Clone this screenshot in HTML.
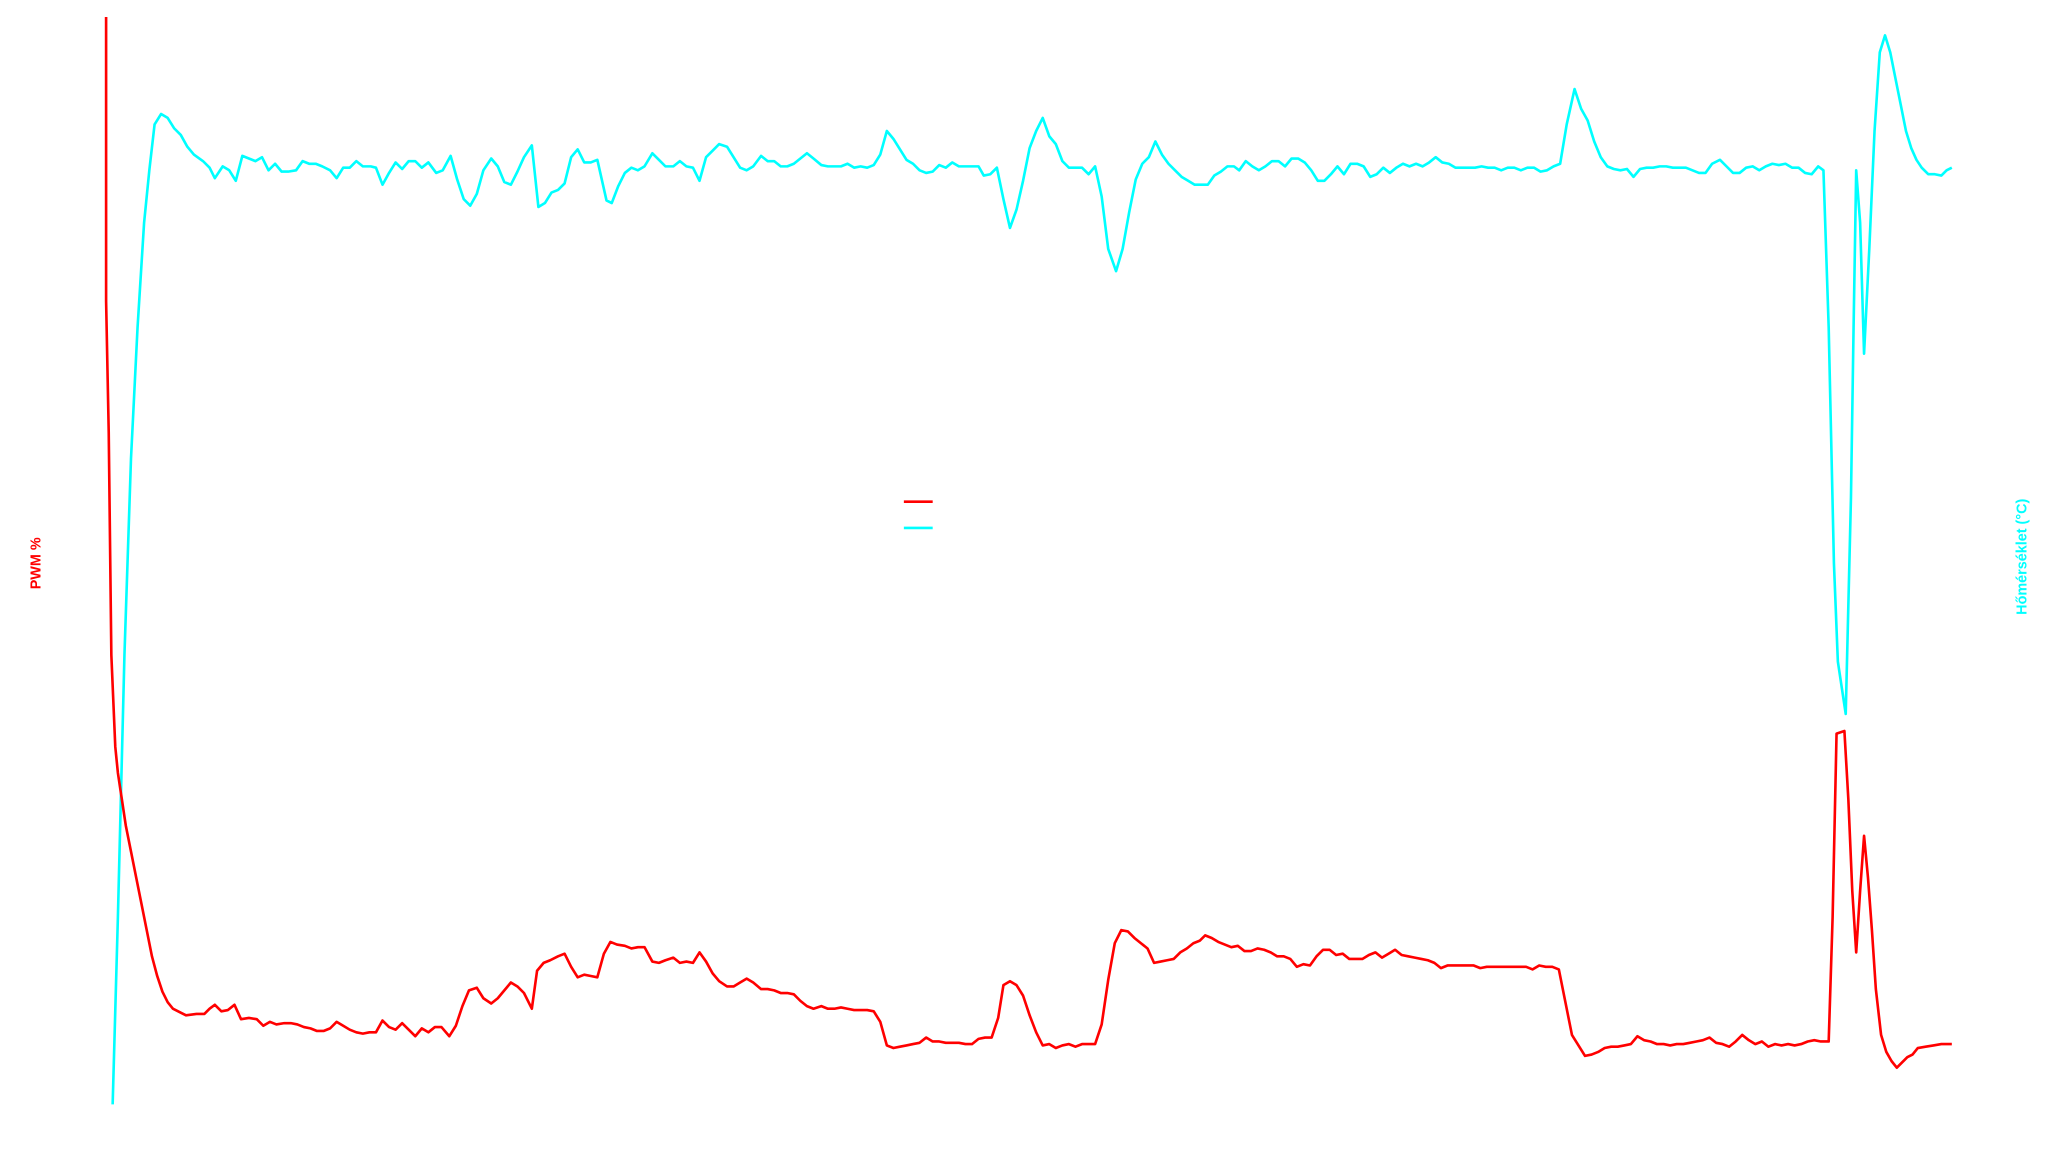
<!DOCTYPE html>
<html><head><meta charset="utf-8"><style>html,body{margin:0;padding:0;background:#fff;}svg{display:block}</style></head>
<body>
<svg width="2054" height="1162" viewBox="0 0 1568 887" preserveAspectRatio="none" xmlns="http://www.w3.org/2000/svg">
<rect width="1568" height="887" fill="#fff"/>
<text x="0" y="0" transform="translate(31,430) rotate(-90)" text-anchor="middle" font-family="Liberation Sans, sans-serif" font-size="11" font-weight="bold" fill="#ff0000">PWM %</text>
<text x="0" y="0" transform="translate(1547,425) rotate(-90)" text-anchor="middle" font-family="Liberation Sans, sans-serif" font-size="11" font-weight="bold" fill="#00ffff">Hőmérséklet (°C)</text>
<line x1="690" y1="383" x2="712" y2="383" stroke="#ff0000" stroke-width="2"/>
<line x1="690" y1="403" x2="712" y2="403" stroke="#00ffff" stroke-width="2"/>
<polyline fill="none" stroke="#00ffff" stroke-width="2" stroke-linejoin="round" points="86,843 90,700 95,500 100,350 105,250 110,170 114,130 118,95 123,87 128,90 133,98 138,103 143,112 148,118 155,123 160,128 164,136 170,127 175,130 180,138 185,119 190,121 195,123 200,120 205,130 210,125 215,131 220,131 226,130 231,123 236,125 241,125 246,127 252,130 257,136 262,128 267,128 272,123 277,127 283,127 287,128 292,141 297,132 302,124 307,129 312,123 317,123 322,128 327,124 333,132 338,130 344,119 349,137 354,152 359,157 364,148 369,130 375,121 380,127 385,139 390,141 395,131 400,120 406,111 411,158 416,155 421,147 426,145 431,140 436,120 441,114 446,124 451,124 456,122 463,153 467,155 472,142 477,132 482,128 487,130 492,127 498,117 503,122 508,127 514,127 519,123 524,127 529,128 534,138 539,120 544,115 549,110 555,112 560,120 565,128 570,130 575,127 581,119 586,123 591,123 596,127 601,127 606,125 611,121 616,117 621,121 627,126 632,127 637,127 642,127 647,125 652,128 657,127 662,128 667,126 672,118 677,100 682,106 687,114 692,122 697,125 702,130 707,132 712,131 717,126 722,128 727,124 732,127 737,127 742,127 747,127 751,134 756,133 761,128 766,152 771,174 776,160 781,138 786,113 791,100 796,90 801,104 806,110 811,123 816,128 821,128 826,128 831,133 836,127 841,150 846,190 852,207 857,190 862,162 867,137 872,125 877,120 882,108 887,118 892,125 897,130 902,135 907,138 912,141 917,141 922,141 927,134 932,131 937,127 942,127 946,130 951,123 956,127 961,130 966,127 971,123 976,123 981,127 986,121 991,121 996,124 1001,130 1006,138 1011,138 1016,133 1021,127 1026,133 1031,125 1036,125 1041,127 1046,135 1051,133 1056,128 1061,132 1066,128 1071,125 1076,127 1081,125 1086,127 1091,124 1096,120 1101,124 1106,125 1111,128 1116,128 1121,128 1126,128 1131,127 1136,128 1141,128 1146,130 1151,128 1156,128 1161,130 1166,128 1171,128 1176,131 1181,130 1186,127 1191,125 1196,95 1202,68 1207,83 1212,92 1217,108 1222,120 1227,127 1232,129 1237,130 1242,129 1247,135 1252,129 1257,128 1262,128 1267,127 1272,127 1277,128 1282,128 1287,128 1292,130 1297,132 1302,132 1307,125 1313,122 1318,127 1323,132 1328,132 1333,128 1338,127 1343,130 1348,127 1353,125 1358,126 1363,125 1368,128 1373,128 1378,132 1383,133 1388,127 1392,130 1396,250 1400,430 1403,505 1406,525 1409,545 1413,380 1415,250 1417,130 1420,170 1423,270 1427,190 1431,100 1435,40 1439,27 1443,40 1447,60 1451,80 1455,100 1459,113 1463,122 1467,128 1472,133 1477,133 1482,134 1486,130 1490,128"/>
<polyline fill="none" stroke="#ff0000" stroke-width="2" stroke-linejoin="round" points="81,13 81,230 83,330 85,500 88,570 90,590 93,610 96,630 100,650 104,670 108,690 112,710 116,730 120,745 124,757 128,765 132,770 138,773 142,775 150,774 156,774 160,770 164,767 169,772 174,771 179,767 184,778 190,777 196,778 201,783 206,780 211,782 217,781 222,781 227,782 232,784 237,785 242,787 247,787 252,785 257,780 262,783 267,786 272,788 277,789 282,788 287,788 292,779 297,784 302,786 307,781 312,786 317,791 322,785 327,788 332,784 337,784 343,791 348,783 353,768 358,756 364,754 369,762 375,766 380,762 385,756 390,750 395,753 400,758 406,770 410,741 415,735 420,733 426,730 431,728 436,738 441,746 446,744 451,745 456,746 461,728 466,719 471,721 477,722 482,724 487,723 492,723 498,734 503,735 508,733 514,731 519,735 524,734 529,735 534,727 539,734 544,743 549,749 555,753 560,753 565,750 570,747 575,750 581,755 586,755 591,756 596,758 601,758 606,759 611,764 616,768 621,770 627,768 632,770 637,770 642,769 647,770 652,771 657,771 662,771 667,772 672,780 677,798 682,800 687,799 692,798 697,797 702,796 707,792 712,795 717,795 722,796 727,796 732,796 737,797 742,797 747,793 752,792 757,792 762,777 766,752 771,749 776,752 781,760 786,775 791,788 796,798 801,797 806,800 811,798 816,797 821,799 826,797 831,797 836,797 841,782 846,748 851,720 856,710 861,711 866,716 871,720 876,724 881,735 886,734 891,733 896,732 901,727 906,724 911,720 916,718 920,714 925,716 930,719 935,721 940,723 945,722 950,726 955,726 960,724 965,725 970,727 975,730 980,730 985,732 990,738 995,736 1000,737 1005,730 1010,725 1015,725 1020,729 1025,728 1030,732 1035,732 1040,732 1045,729 1050,727 1055,731 1060,728 1065,725 1070,729 1075,730 1080,731 1085,732 1090,733 1095,735 1100,739 1105,737 1110,737 1115,737 1120,737 1125,737 1130,739 1135,738 1140,738 1145,738 1150,738 1155,738 1160,738 1165,738 1170,740 1175,737 1180,738 1185,738 1190,740 1195,765 1200,790 1205,798 1210,806 1215,805 1220,803 1225,800 1230,799 1235,799 1240,798 1245,797 1250,791 1255,794 1260,795 1265,797 1270,797 1275,798 1280,797 1285,797 1290,796 1295,795 1300,794 1305,792 1310,796 1315,797 1320,799 1325,795 1330,790 1335,794 1340,797 1345,795 1350,799 1355,797 1360,798 1365,797 1370,798 1375,797 1380,795 1385,794 1390,795 1396,795 1399,700 1402,560 1408,558 1411,610 1414,680 1417,727 1420,680 1423,638 1426,670 1429,710 1432,755 1436,790 1440,803 1444,810 1448,815 1452,811 1456,807 1460,805 1464,800 1470,799 1476,798 1482,797 1490,797"/>
</svg>
</body></html>
